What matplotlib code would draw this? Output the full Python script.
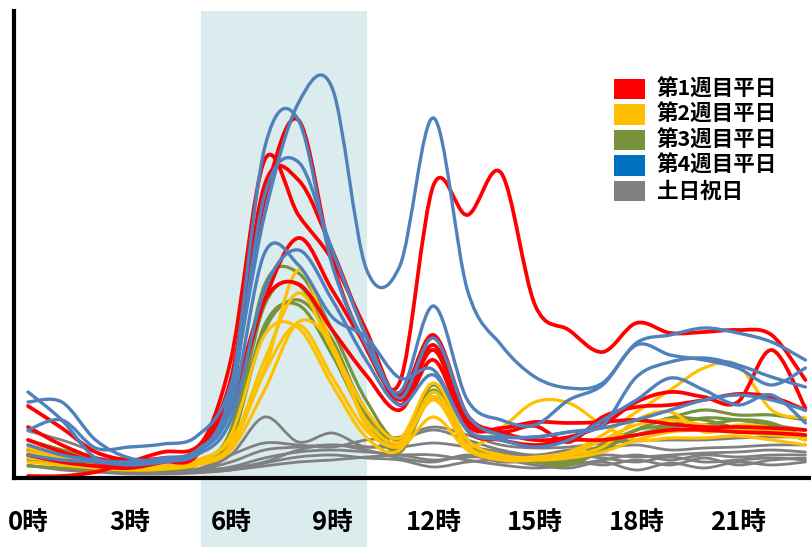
import numpy as np
import matplotlib
matplotlib.use("Agg")
import matplotlib.pyplot as plt
from matplotlib.path import Path
from matplotlib.patches import PathPatch, Rectangle
import matplotlib.transforms as mtransforms

plt.rcParams['font.family'] = ['Noto Sans CJK JP', 'DejaVu Sans']

hours = list(range(24))
tick_hours = [0, 3, 6, 9, 12, 15, 18, 21]
tick_labels = ["0時", "3時", "6時", "9時", "12時", "15時", "18時", "21時"]
legend_labels = ["第1週目平日", "第2週目平日", "第3週目平日", "第4週目平日", "土日祝日"]
highlight_span = (5.12, 10.03)

week1 = [
    [72, 50, 26, 18, 20, 26, 68, 178, 240, 188, 133, 96, 293, 263, 305, 173, 148, 126, 155, 145, 146, 148, 143, 98],
    [51, 33, 20, 16, 18, 30, 98, 278, 358, 216, 130, 83, 143, 63, 46, 38, 41, 53, 76, 86, 81, 76, 128, 70],
    [38, 26, 16, 12, 18, 26, 118, 318, 263, 218, 148, 78, 133, 58, 46, 52, 36, 61, 71, 73, 78, 84, 81, 68],
    [23, 16, 12, 10, 16, 23, 98, 293, 298, 228, 143, 73, 128, 53, 50, 56, 55, 56, 58, 54, 51, 51, 50, 48],
    [2, 2, 6, 16, 26, 31, 78, 178, 194, 148, 103, 68, 118, 48, 38, 33, 38, 38, 43, 48, 48, 46, 45, 43],
]
week2 = [
    [33, 23, 16, 13, 12, 18, 38, 108, 208, 133, 68, 40, 95, 38, 23, 20, 23, 38, 53, 58, 53, 48, 48, 43],
    [26, 20, 13, 10, 10, 16, 33, 118, 185, 128, 58, 36, 81, 33, 50, 76, 75, 53, 38, 40, 40, 42, 38, 33],
    [20, 16, 11, 9, 9, 13, 28, 88, 156, 133, 53, 33, 78, 30, 20, 21, 26, 43, 66, 88, 110, 113, 68, 60],
    [30, 22, 14, 10, 10, 15, 30, 106, 153, 101, 48, 31, 61, 28, 18, 18, 23, 31, 58, 66, 46, 53, 50, 38],
    [16, 13, 10, 8, 9, 16, 43, 143, 150, 93, 41, 28, 86, 32, 21, 18, 20, 26, 38, 46, 48, 46, 43, 40],
]
week3 = [
    [38, 28, 20, 13, 12, 16, 48, 193, 205, 148, 78, 38, 93, 38, 23, 18, 16, 33, 48, 53, 60, 58, 53, 48],
    [12, 10, 8, 8, 8, 13, 40, 173, 193, 133, 68, 33, 88, 33, 23, 16, 13, 28, 48, 60, 68, 63, 63, 58],
    [28, 20, 16, 11, 10, 14, 36, 153, 173, 123, 58, 28, 81, 31, 20, 18, 20, 30, 43, 51, 53, 58, 55, 40],
    [20, 15, 12, 10, 10, 14, 38, 148, 178, 138, 63, 26, 86, 33, 23, 18, 20, 33, 48, 60, 58, 50, 48, 38],
]
week4 = [
    [48, 58, 30, 31, 34, 42, 93, 263, 375, 390, 210, 212, 360, 188, 133, 101, 90, 95, 135, 143, 150, 145, 136, 118],
    [76, 76, 38, 20, 18, 26, 88, 330, 358, 213, 133, 86, 172, 78, 58, 53, 78, 93, 133, 123, 118, 110, 93, 110],
    [33, 23, 18, 16, 20, 28, 78, 283, 316, 228, 143, 80, 140, 63, 43, 41, 46, 53, 101, 116, 120, 113, 101, 91],
    [86, 58, 20, 16, 18, 26, 68, 225, 213, 161, 141, 100, 108, 48, 38, 31, 38, 58, 78, 100, 88, 73, 83, 55],
    [23, 18, 16, 13, 16, 23, 58, 188, 228, 178, 118, 73, 103, 48, 41, 41, 46, 50, 58, 68, 78, 83, 78, 68],
]
holidays = [
    [47, 38, 26, 16, 10, 8, 23, 61, 36, 45, 31, 38, 48, 38, 28, 23, 28, 30, 33, 28, 30, 31, 33, 33],
    [33, 23, 16, 10, 8, 9, 23, 35, 33, 31, 38, 41, 51, 43, 33, 30, 31, 35, 37, 38, 38, 40, 41, 41],
    [29, 20, 13, 8, 7, 8, 16, 28, 31, 33, 31, 31, 35, 31, 26, 20, 18, 23, 21, 23, 25, 26, 28, 26],
    [23, 18, 12, 7, 6, 7, 11, 20, 26, 28, 26, 23, 18, 21, 20, 16, 18, 13, 18, 13, 20, 13, 18, 20],
    [18, 13, 10, 6, 5, 6, 8, 15, 21, 23, 20, 18, 11, 16, 18, 13, 10, 16, 8, 15, 10, 16, 13, 16],
    [13, 8, 6, 4, 4, 5, 8, 12, 16, 18, 21, 23, 23, 18, 13, 10, 13, 18, 23, 18, 23, 21, 23, 23],
    [38, 28, 18, 11, 8, 8, 10, 16, 28, 33, 28, 20, 16, 23, 16, 18, 23, 20, 16, 21, 16, 18, 20, 18],
]

line_colors = {"w1": "#FF0000", "w2": "#FFC000", "w3": "#77933C", "w4": "#4F81BD", "hol": "#808080"}
legend_colors = ["#FF0000", "#FFC000", "#77933C", "#0070C0", "#808080"]


def smooth_path(x, y):
    x = np.asarray(x, float)
    y = np.asarray(y, float)
    n = len(x)
    verts = [(x[0], y[0])]
    codes = [Path.MOVETO]
    for i in range(n - 1):
        xp, yp = (x[i - 1], y[i - 1]) if i > 0 else (x[i], y[i])
        xn, yn = (x[i + 2], y[i + 2]) if i + 2 < n else (x[i + 1], y[i + 1])
        c1 = (x[i] + (x[i + 1] - xp) / 6.0, y[i] + (y[i + 1] - yp) / 6.0)
        c2 = (x[i + 1] - (xn - x[i]) / 6.0, y[i + 1] - (yn - y[i]) / 6.0)
        verts += [c1, c2, (x[i + 1], y[i + 1])]
        codes += [Path.CURVE4] * 3
    return Path(verts, codes)


fig = plt.figure(figsize=(8.12, 5.47), dpi=100)
W, H = 812.0, 547.0
ax_left, ax_right, ax_top, ax_bottom = 14, 812, 11, 478
ax = fig.add_axes([ax_left / W, 1 - ax_bottom / H, (ax_right - ax_left) / W, (ax_bottom - ax_top) / H])

ax.set_xlim(-0.414, 23.195)
ax.set_ylim(0, 467)

# highlighted morning band, extending below the axis
trans = mtransforms.blended_transform_factory(ax.transData, fig.transFigure)
band = Rectangle((highlight_span[0], 0), highlight_span[1] - highlight_span[0], 1 - ax_top / H,
                 transform=trans, facecolor="#DAECEE", edgecolor="none", zorder=0.2, clip_on=False)
ax.add_patch(band)

groups = [
    (holidays, line_colors["hol"], 2.0, 1.0),
    (week3, line_colors["w3"], 2.3, 1.1),
    (week2, line_colors["w2"], 2.3, 1.2),
    (week1, line_colors["w1"], 2.7, 1.3),
    (week4, line_colors["w4"], 2.4, 1.4),
]
for series_list, color, lw, z in groups:
    for vals in series_list:
        p = smooth_path(hours, vals)
        ax.add_patch(PathPatch(p, facecolor="none", edgecolor=color, lw=lw,
                               capstyle="round", joinstyle="round", zorder=z))

for s in ["top", "right"]:
    ax.spines[s].set_visible(False)
for s in ["left", "bottom"]:
    ax.spines[s].set_linewidth(3.0)
    ax.spines[s].set_color("black")
    ax.spines[s].set_zorder(3)

ax.set_yticks([])
ax.set_xticks(tick_hours)
ax.set_xticklabels(tick_labels, fontsize=18.5, fontweight="bold")
ax.tick_params(axis="x", length=0, pad=22)

# legend
leg_x0, leg_w, leg_h = 614, 31, 20
row_centers = [89, 114.5, 140, 165.5, 191]
for lab, col, yc in zip(legend_labels, legend_colors, row_centers):
    fig.patches.append(Rectangle((leg_x0 / W, 1 - (yc + leg_h / 2) / H), leg_w / W, leg_h / H,
                                 transform=fig.transFigure, facecolor=col, edgecolor="none", zorder=5))
    fig.text(657 / W, 1 - yc / H, lab, fontsize=15.5, fontweight="bold", va="center", ha="left")

fig.savefig("out.png", dpi=100)
